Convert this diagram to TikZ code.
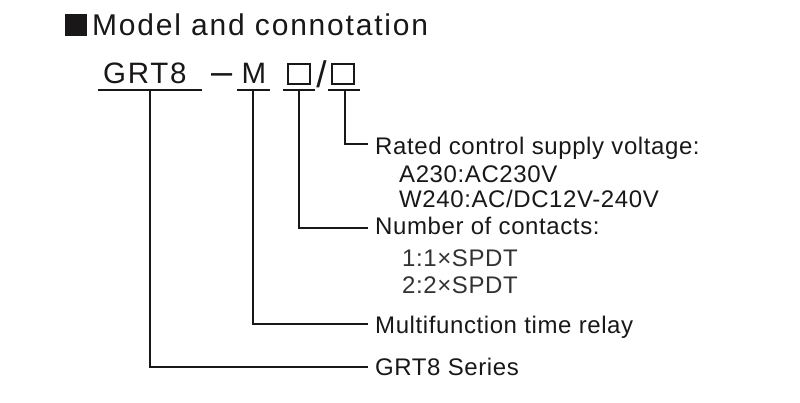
\documentclass[tikz,border=0pt]{standalone}
\usepackage{fontspec}
\setmainfont{Liberation Sans}
\newfontfamily\widefont[LetterSpace=6]{Liberation Sans}
\newfontfamily\descfont[LetterSpace=2.5]{Liberation Sans}
\definecolor{inkGray}{RGB}{25, 23, 24}
\definecolor{softGray}{RGB}{50, 50, 50}

\begin{document}
\begin{tikzpicture}[x=1pt, y=-1pt,
    codepart/.style={inner sep=0pt, anchor=base west, text=inkGray,
      font=\widefont\fontsize{29.5}{30}\selectfont},
    slot/.style={draw=inkGray, line width=1.8pt, inner sep=0pt,
      minimum width=22.2pt, minimum height=20.2pt},
    desc/.style={inner sep=0pt, anchor=base west, text=inkGray,
      font=\descfont\fontsize{24}{24}\selectfont},
    lead/.style={draw=inkGray, line width=1.8pt}]
  \useasboundingbox (0,0) rectangle (800,403);

  % heading
  \node[fill=inkGray, inner sep=0pt, minimum size=22pt] (bullet) at (76,25) {};
  \node[codepart, font=\widefont\fontsize{30}{31}\selectfont] (title) at (92,36) {Model and connotation};

  % model code
  \node[codepart] (grt) at (103,84) {GRT8};
  \node[codepart, anchor=base, font=\fontsize{38}{38}\selectfont] (dash) at (222,85) {–};
  \node[codepart, anchor=base] (mfn) at (254,84) {M};
  \node[slot] (contacts) at (299,74) {};
  \node[codepart, anchor=base, font=\fontsize{37}{37}\selectfont] (slash) at (321.5,88) {/};
  \node[slot] (supply) at (343,74) {};

  % underlines
  \draw[lead] (98,90) -- (202,90);
  \draw[lead] (237,90) -- (270,90);
  \draw[lead] (283,90) -- (315,90);
  \draw[lead] (328,90) -- (360,90);
  \coordinate (ulGrt) at (150,90);
  \coordinate (ulMfn) at (253,90);
  \coordinate (ulContacts) at (299,90);
  \coordinate (ulSupply) at (345,90);

  % descriptions
  \node[desc] (rated) at (375,155) {Rated control supply voltage:};
  \node[desc] (optA) at (399,183) {A230:AC230V};
  \node[desc] (optW) at (399,208) {W240:AC/DC12V-240V};
  \node[desc] (number) at (375,235) {Number of contacts:};
  \node[desc, text=softGray] (one) at (402,267) {1:1×SPDT};
  \node[desc, text=softGray] (two) at (402,293) {2:2×SPDT};
  \node[desc] (relay) at (375,333) {Multifunction time relay};
  \node[desc] (series) at (375,375) {GRT8 Series};

  % leaders
  \coordinate (tapRated) at ([xshift=-7pt, yshift=11pt]rated.base west);
  \coordinate (tapNumber) at ([xshift=-7pt, yshift=7pt]number.base west);
  \coordinate (tapRelay) at ([xshift=-7pt, yshift=9pt]relay.base west);
  \coordinate (tapSeries) at ([xshift=-7pt, yshift=8pt]series.base west);
  \draw[lead] (ulSupply) |- (tapRated);
  \draw[lead] (ulContacts) |- (tapNumber);
  \draw[lead] (ulMfn) |- (tapRelay);
  \draw[lead] (ulGrt) |- (tapSeries);
\end{tikzpicture}
\end{document}
